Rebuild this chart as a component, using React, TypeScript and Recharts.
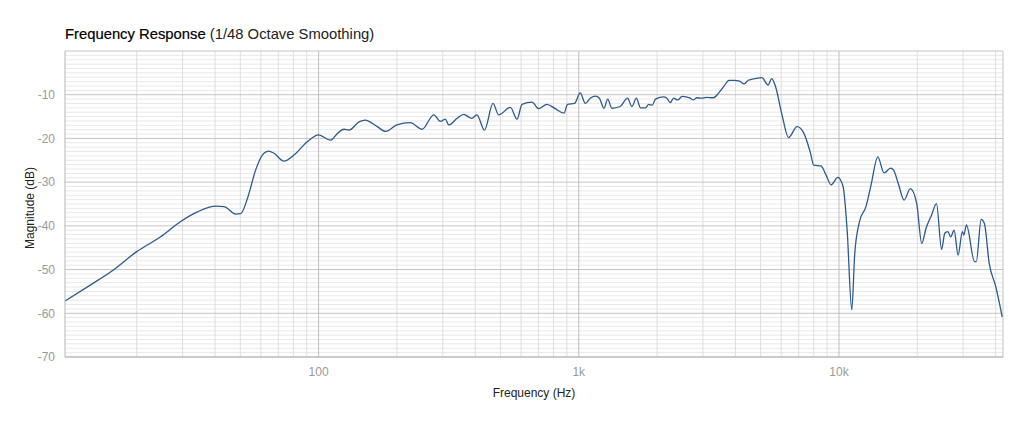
import React from "react";
import { LineChart, Line, XAxis, YAxis, ReferenceLine } from "recharts";

// frequency (Hz) / magnitude (dB)
const freqs = [
  10.6, 13.3, 15.9, 20, 24.7, 29.5, 34.2, 40.3, 43.3, 48, 50.2, 53.3, 57.3, 60.8, 64.4, 67.4, 73.6, 80.4, 90.5,
  100, 111, 118, 125, 131, 143, 151, 168, 181, 200, 225, 250, 277, 294, 307, 316, 341, 361, 388, 406, 434, 468,
  492, 546, 579, 605, 662, 700, 755, 812, 878, 905, 963, 1013, 1060, 1107, 1160, 1200, 1250, 1292, 1340, 1442,
  1540, 1600, 1665, 1727, 1804, 1858, 1915, 1972, 2115, 2180, 2247, 2314, 2400, 2495, 2680, 2760, 2840, 2960,
  3090, 3290, 3440, 3600, 3780, 3950, 4150, 4320, 4480, 4770, 5060, 5340, 5515, 5680, 6040, 6400, 6900, 7300,
  7770, 8000, 8530, 8920, 9330, 9900, 10370, 10750, 11200, 11500, 12000, 12700, 13300, 14100, 14900, 15800,
  16200, 16900, 17800, 18800, 19900, 20800, 21600, 22700, 23700, 24800, 25500, 26200, 26900, 27700, 28700,
  29800, 30200, 30900, 33200, 33700, 35200, 36200, 37800, 40100, 42400,
];
const magnitudes = [
  -57.2, -53.5, -50.5, -45.9, -42.5, -39.0, -36.8, -35.5, -35.6, -37.3, -37.2, -33.7, -27.2, -23.8, -22.9, -23.4,
  -25.2, -23.8, -20.75, -19.2, -20.4, -18.9, -17.9, -18.1, -16.2, -15.8, -17.3, -18.4, -16.9, -16.4, -17.9,
  -14.6, -16.1, -15.6, -16.9, -15.4, -14.5, -15.4, -14.6, -18.1, -12.0, -14.6, -12.9, -15.6, -12.2, -11.7,
  -13.2, -12.2, -13.2, -14.2, -12.2, -12.0, -9.6, -12.0, -10.8, -10.3, -10.8, -13.1, -11.0, -13.1, -12.7, -10.8,
  -12.7, -10.8, -13.0, -13.0, -12.2, -12.4, -11.0, -10.5, -10.8, -11.8, -10.8, -11.2, -10.4, -10.8, -11.2,
  -10.7, -10.8, -10.6, -10.7, -9.7, -8.2, -6.7, -6.7, -6.9, -7.5, -6.7, -6.3, -6.1, -7.8, -6.3, -7.8, -14.6,
  -19.8, -17.3, -18.6, -23.3, -26.1, -26.3, -28.4, -30.6, -28.9, -31.0, -41.0, -59.2, -46.3, -39.0, -35.6,
  -30.5, -24.2, -27.9, -26.8, -27.2, -30.3, -34.1, -31.5, -34.9, -44.0, -40.6, -37.5, -34.9, -45.4, -41.7,
  -41.3, -42.5, -41.0, -46.7, -41.3, -42.1, -39.8, -48.2, -48.2, -38.5, -39.4, -48.6, -54.0, -60.8,
];

const xTicks = [100, 1000, 10000];
const yTicks = [-70, -60, -50, -40, -30, -20, -10];
const xMinor = [
  20, 30, 40, 50, 60, 70, 80, 90, 200, 300, 400, 500, 600, 700, 800, 900, 2000, 3000, 4000, 5000, 6000, 7000,
  8000, 9000, 20000, 30000, 40000,
];
const yMinor = Array.from({ length: 70 }, (_, i) => -69 + i).filter((v) => v % 10 !== 0);

const data = freqs.map((f, i) => ({ f, db: magnitudes[i] }));

const font = "'Liberation Sans', Arial, Helvetica, sans-serif";

const fmtFreq = (v: number) => (v >= 1000 ? `${v / 1000}k` : String(v));

export default function App() {
  return (
    <div style={{ position: "relative", width: 1008, height: 411, fontFamily: font }}>
      <div style={{ position: "absolute", left: 57, top: 19, fontSize: 14.8, lineHeight: "15px", color: "#111", whiteSpace: "nowrap" }}>
        <span style={{ color: "#000", WebkitTextStroke: "0.2px #000" }}>Frequency Response</span>{" "}
        <span style={{ color: "#222" }}>(1/48 Octave Smoothing)</span>
      </div>
      <LineChart width={1008} height={411} data={data} margin={{ top: 43, right: 13, left: 0, bottom: 32 }}>
        {yMinor.map((v) => (
          <ReferenceLine key={"ym" + v} y={v} stroke="#e9e9e9" strokeWidth={1} />
        ))}
        {xMinor.map((v) => (
          <ReferenceLine key={"xm" + v} x={v} stroke="#dedede" strokeWidth={1} />
        ))}
        {yTicks.map((v) => (
          <ReferenceLine key={"yM" + v} y={v} stroke="#c4c4c4" strokeWidth={1} />
        ))}
        {xTicks.map((v) => (
          <ReferenceLine key={"xM" + v} x={v} stroke="#bdbdbd" strokeWidth={1} />
        ))}
        <ReferenceLine y={0} stroke="#c4c4c4" />
        <ReferenceLine x={42700} stroke="#c4c4c4" />
        <XAxis
          dataKey="f"
          type="number"
          scale="log"
          domain={[10.6, 42700]}
          allowDataOverflow
          ticks={xTicks}
          tickFormatter={fmtFreq}
          tickLine={false}
          axisLine={{ stroke: "#b5b5b5" }}
          tick={{ fill: "#9a9a9a", fontSize: 12, fontFamily: font }}
          tickMargin={4}
          height={30}
        />
        <YAxis
          type="number"
          domain={[-70, 0]}
          ticks={yTicks}
          tickLine={false}
          axisLine={{ stroke: "#b5b5b5" }}
          tick={{ fill: "#9a9a9a", fontSize: 12, fontFamily: font }}
          tickMargin={4}
          width={57}
        />
        <Line
          type="monotone"
          dataKey="db"
          stroke="#2d5a8e"
          strokeWidth={1.3}
          dot={false}
          activeDot={false}
          isAnimationActive={false}
        />
      </LineChart>
      <div
        style={{
          position: "absolute",
          left: 57,
          width: 938,
          top: 378,
          fontSize: 12,
          lineHeight: "14px",
          textAlign: "center",
          color: "#222",
        }}
      >
        Frequency (Hz)
      </div>
      <div
        style={{
          position: "absolute",
          left: 22 - 60,
          top: 200 - 7,
          width: 120,
          fontSize: 12,
          lineHeight: "14px",
          textAlign: "center",
          color: "#222",
          transform: "rotate(-90deg)",
        }}
      >
        Magnitude (dB)
      </div>
    </div>
  );
}
